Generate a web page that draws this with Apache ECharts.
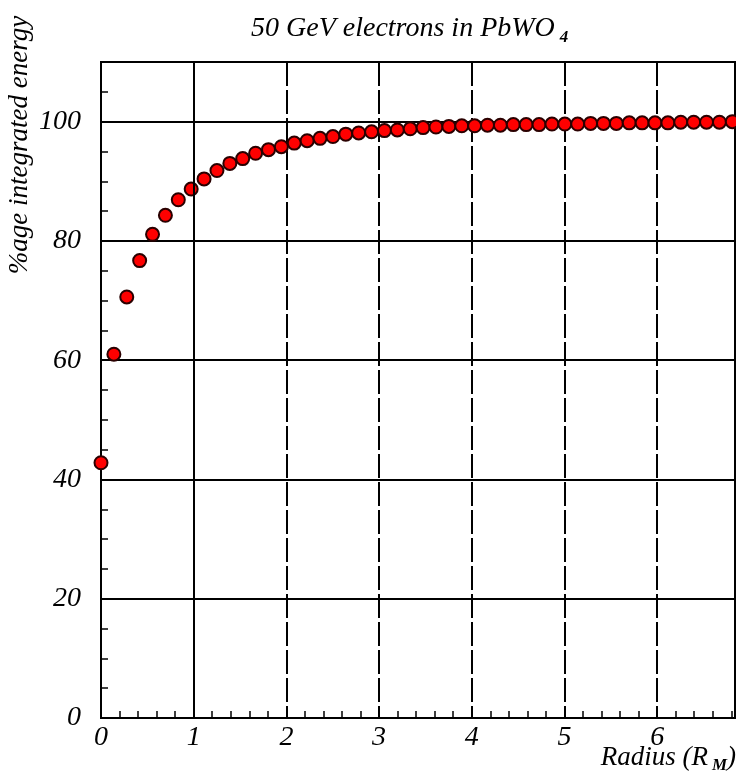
<!DOCTYPE html>
<html>
<head>
<meta charset="utf-8">
<script src="https://cdn.jsdelivr.net/npm/echarts@6/dist/echarts.min.js"></script>
<style>
  html, body { margin: 0; padding: 0; background: #fff; }
  #main { width: 736px; height: 778px; }
</style>
</head>
<body>
<div id="main"></div>
<script>
// radius in Moliere radii
var radius = [0, 0.139, 0.278, 0.417, 0.556, 0.695, 0.834, 0.973, 1.112, 1.251,
  1.39, 1.529, 1.668, 1.807, 1.946, 2.085, 2.224, 2.363, 2.502, 2.641,
  2.78, 2.919, 3.058, 3.197, 3.336, 3.475, 3.614, 3.753, 3.892, 4.031,
  4.17, 4.309, 4.448, 4.587, 4.726, 4.865, 5.004, 5.143, 5.282, 5.421,
  5.56, 5.699, 5.838, 5.977, 6.116, 6.255, 6.394, 6.533, 6.672, 6.811];
// % of integrated energy
var energy = [42.8, 61.0, 70.6, 76.7, 81.1, 84.3, 86.9, 88.7, 90.4, 91.8,
  93.0, 93.8, 94.7, 95.3, 95.8, 96.4, 96.8, 97.2, 97.5, 97.9,
  98.1, 98.3, 98.5, 98.6, 98.8, 99.0, 99.1, 99.2, 99.3, 99.3,
  99.4, 99.4, 99.5, 99.5, 99.5, 99.6, 99.6, 99.6, 99.7, 99.7,
  99.7, 99.8, 99.8, 99.8, 99.8, 99.9, 99.9, 99.9, 99.9, 100.0];
var xTicks = [0, 1, 2, 3, 4, 5, 6];
var yTicks = [0, 20, 40, 60, 80, 100];

var points = radius.map(function (r, i) { return [r, energy[i]]; });

var serif = '"Liberation Serif", "DejaVu Serif", serif';
var chart = echarts.init(document.getElementById('main'));

chart.setOption({
  backgroundColor: '#fff',
  animation: false,
  title: {
    text: '{a|50 GeV electrons in PbWO}{b|4}',
    left: 246,
    top: 6,
    textStyle: {
      rich: {
        a: { fontFamily: serif, fontStyle: 'italic', fontWeight: 'normal', fontSize: 28, color: '#000' },
        b: { fontFamily: serif, fontStyle: 'italic', fontWeight: 'bold', fontSize: 17, color: '#000', padding: [18, 0, 0, 5] }
      }
    }
  },
  grid: {
    left: 101, right: 1, top: 62, bottom: 60,
    show: true, borderColor: '#000', borderWidth: 2
  },
  xAxis: {
    type: 'value',
    min: 0, max: 6.84, interval: 1,
    axisLine: { lineStyle: { color: '#000', width: 2 } },
    axisTick: { inside: true, length: 8, lineStyle: { color: '#000', width: 2 } },
    minorTick: { show: true, splitNumber: 5, length: 7, lineStyle: { color: '#000', width: 1.5 } },
    splitLine: { show: true, lineStyle: { color: '#000', width: 2, type: [24, 4] } },
    axisLabel: {
      showMaxLabel: false,
      margin: 6,
      fontFamily: serif, fontStyle: 'italic', fontSize: 28, color: '#000',
      formatter: function (v) { return xTicks.indexOf(v) >= 0 ? String(v) : ''; }
    }
  },
  yAxis: {
    type: 'value',
    min: 0, max: 110, interval: 20,
    axisLine: { lineStyle: { color: '#000', width: 2 } },
    axisTick: { inside: true, length: 8, lineStyle: { color: '#000', width: 2 } },
    minorTick: { show: true, splitNumber: 4, length: 7, lineStyle: { color: '#000', width: 1.5 } },
    splitLine: { show: true, lineStyle: { color: '#000', width: 2 } },
    axisLabel: {
      showMaxLabel: false,
      margin: 20,
      fontFamily: serif, fontStyle: 'italic', fontSize: 28, color: '#000',
      formatter: function (v) { return yTicks.indexOf(v) >= 0 ? String(v) : ''; }
    }
  },
  graphic: [
    {
      type: 'text',
      x: 20, y: 145,
      rotation: Math.PI / 2,
      style: {
        text: '%age integrated energy',
        font: 'italic 27px ' + serif,
        fill: '#000',
        align: 'center',
        verticalAlign: 'middle'
      }
    },
    {
      type: 'text',
      right: 0, top: 744,
      style: {
        text: '{a|Radius (R}{b|M}{a|)}',
        fill: '#000',
        rich: {
          a: { font: 'italic 27px ' + serif, fill: '#000' },
          b: { font: 'italic bold 17px ' + serif, fill: '#000', padding: [16, 0, 0, 4] }
        }
      }
    }
  ],
  series: [
    {
      type: 'scatter',
      data: points,
      symbol: 'circle',
      symbolSize: 13,
      itemStyle: { color: '#ff0000', borderColor: '#2a0000', borderWidth: 2, opacity: 1 },
      markLine: {
        silent: true,
        symbol: 'none',
        label: { show: false },
        lineStyle: { color: '#000', width: 2, type: 'solid' },
        data: [{ xAxis: 1 }]
      },
      z: 3
    }
  ]
});
</script>
</body>
</html>
